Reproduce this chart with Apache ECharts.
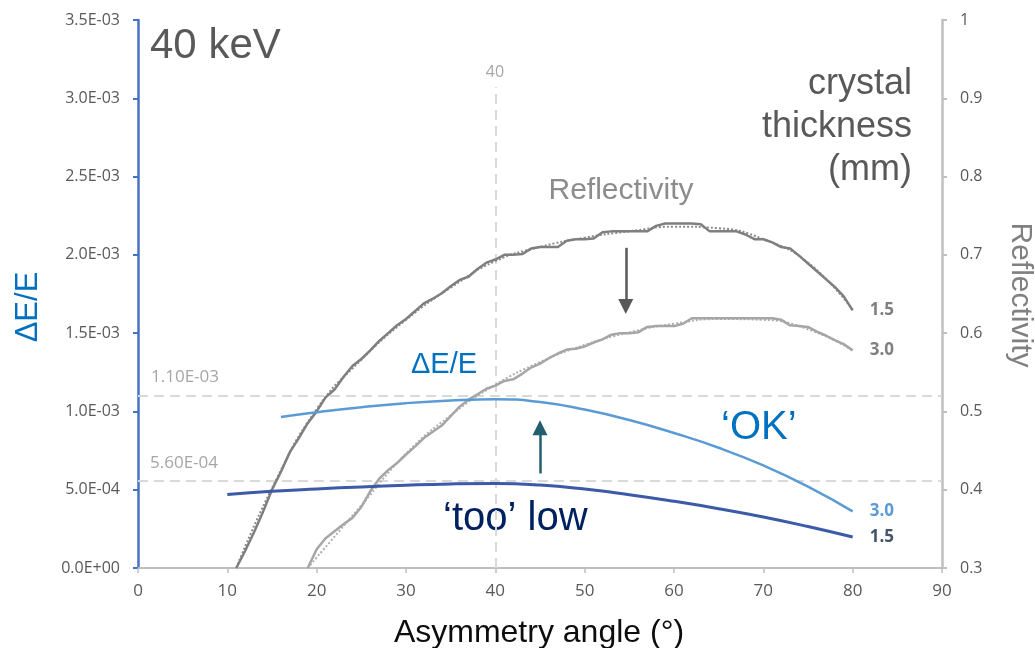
<!DOCTYPE html>
<html>
<head>
<meta charset="utf-8">
<script src="https://cdn.jsdelivr.net/npm/echarts/dist/echarts.min.js"></script>
<style>
html,body{margin:0;padding:0;background:#fff;}
#chart{width:1035px;height:648px;}
</style>
</head>
<body>
<div id="chart"></div>
<script>
// ---------- data ----------
const refl15Angles = [11,12,13,14,15,16,17,18,19,20,21,22,23,24,25,26,27,28,29,30,31,32,33,34,35,36,37,38,39,40,41,42,43,44,45,46,47,48,49,50,51,52,53,54,55,56,57,58,59,60,61,62,63,64,65,66,67,68,69,70,71,72,73,74,75,76,77,78,79,80];
const refl15Values = [0.300,0.322,0.346,0.372,0.400,0.423,0.448,0.466,0.485,0.500,0.518,0.528,0.544,0.558,0.567,0.578,0.590,0.600,0.610,0.618,0.628,0.638,0.644,0.651,0.660,0.668,0.672,0.682,0.690,0.694,0.700,0.700,0.701,0.708,0.710,0.710,0.710,0.718,0.720,0.720,0.721,0.729,0.730,0.730,0.730,0.730,0.730,0.737,0.740,0.740,0.740,0.740,0.739,0.730,0.730,0.730,0.730,0.726,0.720,0.720,0.716,0.710,0.708,0.699,0.689,0.679,0.669,0.659,0.647,0.629];

const refl30Angles = [19,20,21,22,23,24,25,26,27,28,29,30,31,32,33,34,35,36,37,38,39,40,41,42,43,44,45,46,47,48,49,50,51,52,53,54,55,56,57,58,59,60,61,62,63,64,65,66,67,68,69,70,71,72,73,74,75,76,77,78,79,80];
const refl30Values = [0.300,0.324,0.338,0.347,0.356,0.364,0.378,0.398,0.414,0.425,0.434,0.445,0.455,0.466,0.474,0.482,0.494,0.506,0.515,0.522,0.529,0.533,0.539,0.541,0.548,0.556,0.561,0.568,0.574,0.579,0.580,0.583,0.588,0.592,0.598,0.600,0.600,0.601,0.608,0.609,0.609,0.609,0.612,0.619,0.619,0.619,0.619,0.619,0.619,0.619,0.619,0.619,0.619,0.617,0.610,0.609,0.608,0.602,0.597,0.591,0.586,0.578];

const refl15TrendAngles = [11,15,20,25,30,35,40,45,50,55,60,65,70,75,80];
const refl15TrendValues = [0.300,0.402,0.503,0.566,0.617,0.658,0.692,0.710,0.722,0.730,0.736,0.734,0.720,0.690,0.630];
const refl30TrendAngles = [19,25,30,35,40,45,50,55,60,65,70,75,80];
const refl30TrendValues = [0.300,0.380,0.446,0.495,0.534,0.563,0.585,0.601,0.612,0.618,0.617,0.605,0.578];

const dE30Angles = [16,20,25,30,35,40,45,50,55,60,65,70,75,80];
const dE30Values = [0.965e-3,0.995e-3,1.027e-3,1.053e-3,1.070e-3,1.078e-3,1.060e-3,1.012e-3,0.945e-3,0.862e-3,0.768e-3,0.655e-3,0.520e-3,0.362e-3];
const dE15Angles = [10,15,20,25,30,35,40,45,50,55,60,65,70,75,80];
const dE15Values = [0.469e-3,0.490e-3,0.505e-3,0.518e-3,0.529e-3,0.537e-3,0.540e-3,0.530e-3,0.504e-3,0.468e-3,0.426e-3,0.379e-3,0.326e-3,0.265e-3,0.198e-3];

const refLevels = [1.10e-3, 5.60e-4];
const refLevelLabels = ['1.10E-03', '5.60E-04'];
const refAngle = 40;
const refAngleTop = 3.07e-3;
const downArrow = [[54.6, 0.709], [54.6, 0.634]];     // reflectivity axis
const upArrow = [[45.0, 0.604e-3], [45.0, 0.896e-3]]; // ΔE/E axis

// ---------- helpers ----------
const zip = (xs, ys) => xs.map((x, i) => [x, ys[i]]);
function sci(v) {
  if (Math.abs(v) < 1e-12) return '0.0E+00';
  const s = v.toExponential(1);
  const parts = s.split('e');
  const n = parseInt(parts[1], 10);
  return parts[0] + 'E' + (n < 0 ? '-' : '+') + String(Math.abs(n)).padStart(2, '0');
}

const FONT = "'Open Sans', 'Liberation Sans', sans-serif";
const TFONT = "'Liberation Sans', Arial, sans-serif";

const chart = echarts.init(document.getElementById('chart'), null, {renderer: 'canvas'});

const option = {
  animation: false,
  backgroundColor: '#ffffff',
  grid: {left: 138, right: 93, top: 20, bottom: 80, containLabel: false},
  xAxis: {
    type: 'value', min: 0, max: 90, interval: 10,
    axisLine: {show: true, lineStyle: {color: '#bfbfbf', width: 2}},
    axisTick: {show: true, length: 5, lineStyle: {color: '#bfbfbf', width: 1.5}},
    axisLabel: {color: '#595959', fontSize: 17, fontFamily: FONT, margin: 15},
    splitLine: {show: false}
  },
  yAxis: [
    {
      type: 'value', min: 0, max: 0.0035, interval: 0.0005, position: 'left',
      axisLine: {show: true, lineStyle: {color: '#4472c4', width: 2.5}},
      axisTick: {show: true, length: 5, lineStyle: {color: '#4472c4', width: 2}},
      axisLabel: {color: '#595959', fontSize: 16, fontFamily: FONT, margin: 18, formatter: sci},
      splitLine: {show: false}
    },
    {
      type: 'value', min: 0.3, max: 1, interval: 0.1, position: 'right',
      axisLine: {show: true, lineStyle: {color: '#bfbfbf', width: 2.5}},
      axisTick: {show: true, length: 5, lineStyle: {color: '#bfbfbf', width: 2}},
      axisLabel: {color: '#595959', fontSize: 16, fontFamily: FONT, margin: 18,
        formatter: v => String(Math.round(v * 10) / 10)},
      splitLine: {show: false}
    }
  ],
  series: [
    {
      name: 'Reflectivity 1.5 mm', type: 'line', yAxisIndex: 1,
      data: zip(refl15Angles, refl15Values), showSymbol: false, z: 4,
      lineStyle: {color: '#7f7f7f', width: 2.5},
      endLabel: {show: true, formatter: '1.5', color: '#7f7f7f', fontWeight: 'bold', fontSize: 17, fontFamily: FONT, distance: 17},
      markLine: {
        silent: true, symbol: ['none', 'triangle'], symbolSize: [15, 15],
        lineStyle: {color: '#595959', width: 2.5, type: 'solid'},
        label: {show: false},
        data: [[{coord: downArrow[0]}, {coord: downArrow[1]}]]
      }
    },
    {
      name: 'Reflectivity 1.5 mm trend', type: 'line', yAxisIndex: 1, smooth: true,
      data: zip(refl15TrendAngles, refl15TrendValues), showSymbol: false, z: 3,
      lineStyle: {color: '#8c8c8c', width: 2, type: 'dotted'}
    },
    {
      name: 'Reflectivity 3.0 mm', type: 'line', yAxisIndex: 1,
      data: zip(refl30Angles, refl30Values), showSymbol: false, z: 4,
      lineStyle: {color: '#a6a6a6', width: 2.5},
      endLabel: {show: true, formatter: '3.0', color: '#808080', fontWeight: 'bold', fontSize: 17, fontFamily: FONT, distance: 17}
    },
    {
      name: 'Reflectivity 3.0 mm trend', type: 'line', yAxisIndex: 1, smooth: true,
      data: zip(refl30TrendAngles, refl30TrendValues), showSymbol: false, z: 3,
      lineStyle: {color: '#b0b0b0', width: 2, type: 'dotted'}
    },
    {
      name: 'ΔE/E 3.0 mm', type: 'line', yAxisIndex: 0, smooth: true,
      data: zip(dE30Angles, dE30Values), showSymbol: false, z: 5,
      lineStyle: {color: '#5b9bd5', width: 2.5},
      endLabel: {show: true, formatter: '3.0', color: '#5b9bd5', fontWeight: 'bold', fontSize: 17, fontFamily: FONT, distance: 17},
      markLine: {
        silent: true, symbol: ['none', 'triangle'], symbolSize: [15, 15],
        lineStyle: {color: '#215e6e', width: 2.5, type: 'solid'},
        label: {show: false},
        data: [[{coord: upArrow[0]}, {coord: upArrow[1]}]]
      }
    },
    {
      name: 'ΔE/E 1.5 mm', type: 'line', yAxisIndex: 0, smooth: true,
      data: zip(dE15Angles, dE15Values), showSymbol: false, z: 5,
      lineStyle: {color: '#3b5aa8', width: 3},
      endLabel: {show: true, formatter: '1.5', color: '#44546a', fontWeight: 'bold', fontSize: 17, fontFamily: FONT, distance: 17},
      markLine: {
        silent: true, symbol: ['none', 'none'], z: 1,
        lineStyle: {color: '#d9d9d9', width: 2, type: [10, 6]},
        label: {show: false},
        data: [
          [{coord: [0, refLevels[0]]}, {coord: [90, refLevels[0]]}],
          [{coord: [0, refLevels[1]]}, {coord: [90, refLevels[1]]}],
          [{coord: [refAngle, 0]}, {coord: [refAngle, refAngleTop]}]
        ]
      }
    }
  ],
  graphic: [
    {type: 'text', x: 150, y: 46, style: {text: '40 keV', font: '42px ' + TFONT, fill: '#595959', align: 'left', verticalAlign: 'middle'}},
    {type: 'text', x: 912, y: 84, style: {text: 'crystal', font: '36px ' + TFONT, fill: '#595959', align: 'right', verticalAlign: 'middle'}},
    {type: 'text', x: 912, y: 127, style: {text: 'thickness', font: '36px ' + TFONT, fill: '#595959', align: 'right', verticalAlign: 'middle'}},
    {type: 'text', x: 912, y: 170, style: {text: '(mm)', font: '36px ' + TFONT, fill: '#595959', align: 'right', verticalAlign: 'middle'}},
    {type: 'text', x: 621, y: 191, style: {text: 'Reflectivity', font: '30px ' + TFONT, fill: '#8c8c8c', align: 'center', verticalAlign: 'middle'}},
    {type: 'text', x: 411, y: 365, style: {text: 'ΔE/E', font: '29px ' + TFONT, fill: '#0070c0', align: 'left', verticalAlign: 'middle'}},
    {type: 'text', x: 721, y: 428, style: {text: '‘OK’', font: '40px ' + TFONT, fill: '#0070c0', align: 'left', verticalAlign: 'middle'}},
    {type: 'text', x: 443, y: 519, style: {text: '‘too’ low', font: '40px ' + TFONT, fill: '#002060', align: 'left', verticalAlign: 'middle'}},
    {type: 'text', x: 151, y: 377, style: {text: refLevelLabels[0], font: '17px ' + FONT, fill: '#a6a6a6', align: 'left', verticalAlign: 'middle'}},
    {type: 'text', x: 150, y: 463, style: {text: refLevelLabels[1], font: '17px ' + FONT, fill: '#a6a6a6', align: 'left', verticalAlign: 'middle'}},
    {type: 'text', x: 495, y: 72, style: {text: String(refAngle), font: '16px ' + FONT, fill: '#a6a6a6', align: 'center', verticalAlign: 'middle'}},
    {type: 'text', x: 28, y: 307, rotation: Math.PI / 2, style: {text: 'ΔE/E', font: '31px ' + TFONT, fill: '#0070c0', align: 'center', verticalAlign: 'middle'}},
    {type: 'text', x: 1020, y: 295, rotation: -Math.PI / 2, style: {text: 'Reflectivity', font: '30px ' + TFONT, fill: '#808080', align: 'center', verticalAlign: 'middle'}},
    {type: 'text', x: 539, y: 633, style: {text: 'Asymmetry angle (°)', font: '32px ' + TFONT, fill: '#0d0d0d', align: 'center', verticalAlign: 'middle'}}
  ]
};

chart.setOption(option);
</script>
</body>
</html>
